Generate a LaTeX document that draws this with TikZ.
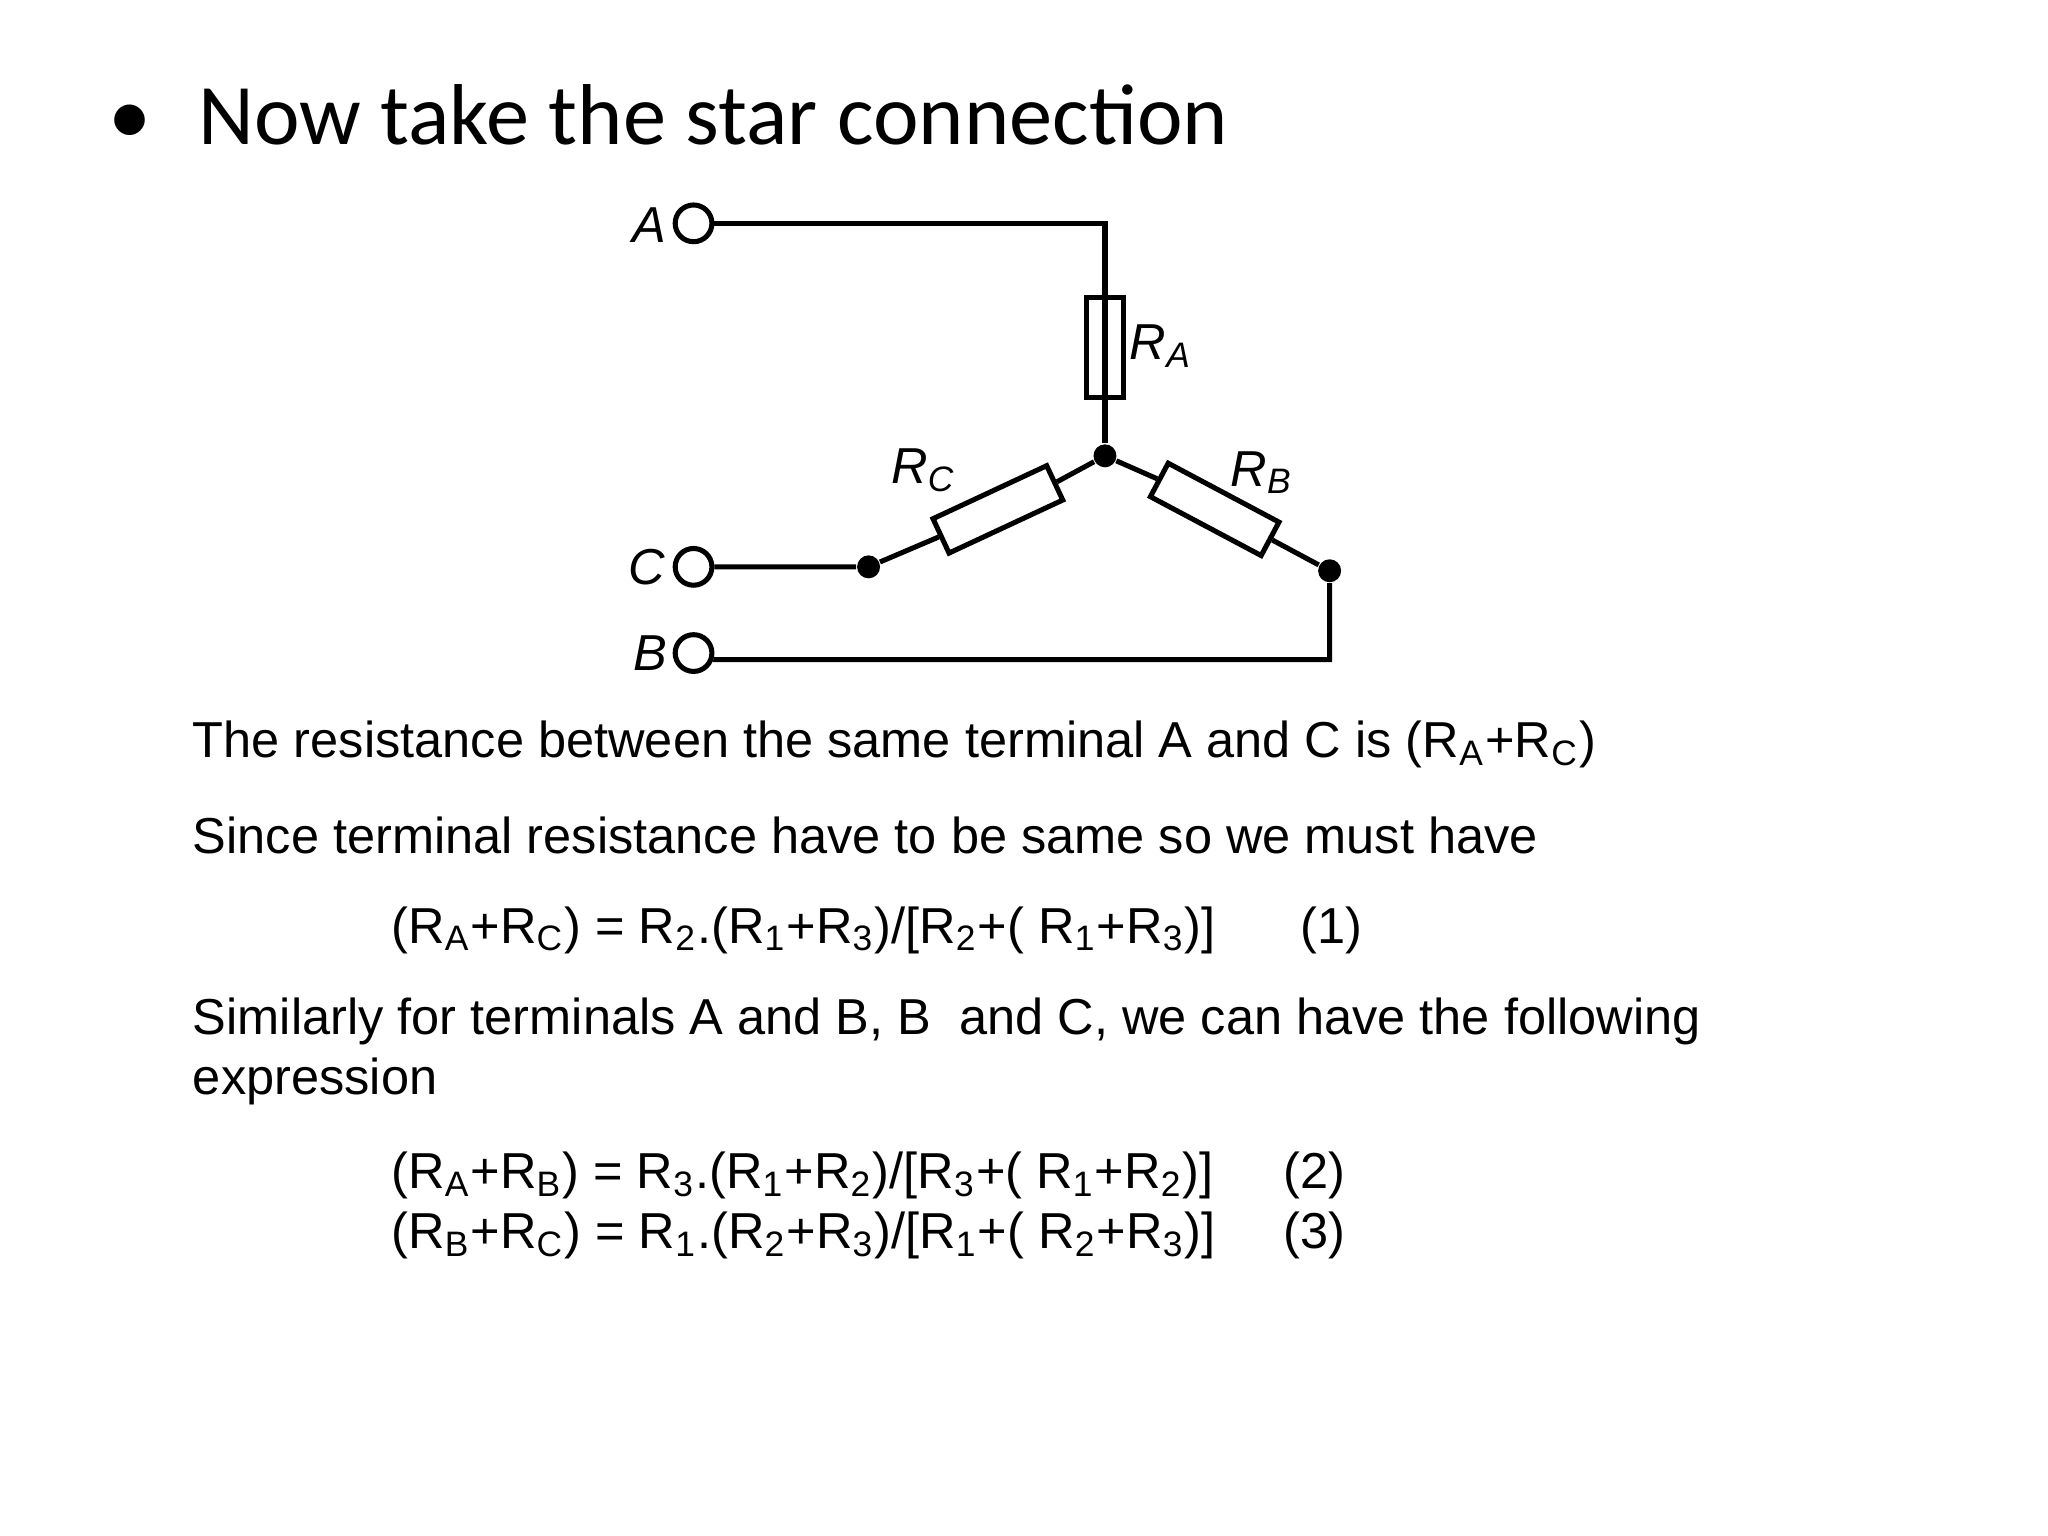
\documentclass[tikz,border=0pt]{standalone}
\usepackage{fontspec}
\setmainfont{Liberation Sans}
\newfontfamily\titlefont{Carlito}
\begin{document}
\begin{tikzpicture}[x=0.01cm,y=-0.01cm,
  wire/.style={line width=1.1pt},
  term/.style={circle,draw,line width=1.1pt,minimum size=8pt,inner sep=0pt,fill=white},
  dot/.style={circle,fill,minimum size=5pt,inner sep=0pt},
  res/.style={draw,line width=1.1pt,fill=white,inner sep=0pt},
  lab/.style={font=\itshape\fontsize{11}{13}\selectfont},
  txt/.style={anchor=west,inner sep=0pt,font=\fontsize{11}{13}\selectfont}]
\useasboundingbox (0,0) rectangle (1568,1176);
\node[anchor=west,inner sep=0pt,font=\titlefont\fontsize{18.8}{23}\selectfont] (title) at (82,88) {•\hspace{0.55em}Now take the star connection};
% circuit
\node[term] (A) at (531,171) {};
\node[term] (C) at (531,434) {};
\node[term] (B) at (531,500) {};
\node[lab] (lA) at (497,172) {A};
\node[lab] (lC) at (495,434) {C};
\node[lab] (lB) at (498,500) {B};
\coordinate (tr) at (846,171);
\node[dot] (N) at (846,349) {};
\node[dot] (Cd) at (665,434) {};
\node[dot] (Bd) at (1018,437) {};
\coordinate (br) at (1018,505);
\node[res,minimum width=0.76cm,minimum height=0.29cm,rotate=90] (RA) at (846,266) {};
\node[res,minimum width=0.96cm,minimum height=0.29cm,rotate=25] (RC) at (764,390) {};
\node[res,minimum width=0.96cm,minimum height=0.29cm,rotate=-28] (RB) at (930,390) {};
\draw[wire] (A) -- (tr) -- (RA.west);
\draw[wire] (RA.east) -- (N);
\draw[wire] (C) -- (Cd) -- (RC.west);
\draw[wire] (RC.east) -- (N);
\draw[wire] (N) -- (RB.west);
\draw[wire] (RB.east) -- (Bd) -- (br) -- (B.east |- br) -- (B);
\node[lab] (lRA) at (889,265) {R\textsubscript{A}};
\node[lab] (lRC) at (707,360) {R\textsubscript{C}};
\node[lab] (lRB) at (966,362) {R\textsubscript{B}};
% text
\node[txt] (t1) at (147,570) {The resistance between the same terminal A and C is (R\textsubscript{A}+R\textsubscript{C})};
\node[txt] (t2) at (147,640) {Since terminal resistance have to be same so we must have};
\node[txt] (e1) at (299,712) {(R\textsubscript{A}+R\textsubscript{C}) = R\textsubscript{2}.(R\textsubscript{1}+R\textsubscript{3})/[R\textsubscript{2}+( R\textsubscript{1}+R\textsubscript{3})]};
\node[txt] (n1) at (995,712) {(1)};
\node[txt] (t3) at (147,782) {Similarly for terminals A and B, B\ \ and C, we can have the following};
\node[txt] (t4) at (147,828) {expression};
\node[txt] (e2) at (299,900) {(R\textsubscript{A}+R\textsubscript{B}) = R\textsubscript{3}.(R\textsubscript{1}+R\textsubscript{2})/[R\textsubscript{3}+( R\textsubscript{1}+R\textsubscript{2})]};
\node[txt] (n2) at (982,900) {(2)};
\node[txt] (e3) at (299,946) {(R\textsubscript{B}+R\textsubscript{C}) = R\textsubscript{1}.(R\textsubscript{2}+R\textsubscript{3})/[R\textsubscript{1}+( R\textsubscript{2}+R\textsubscript{3})]};
\node[txt] (n3) at (982,946) {(3)};
\end{tikzpicture}
\end{document}
